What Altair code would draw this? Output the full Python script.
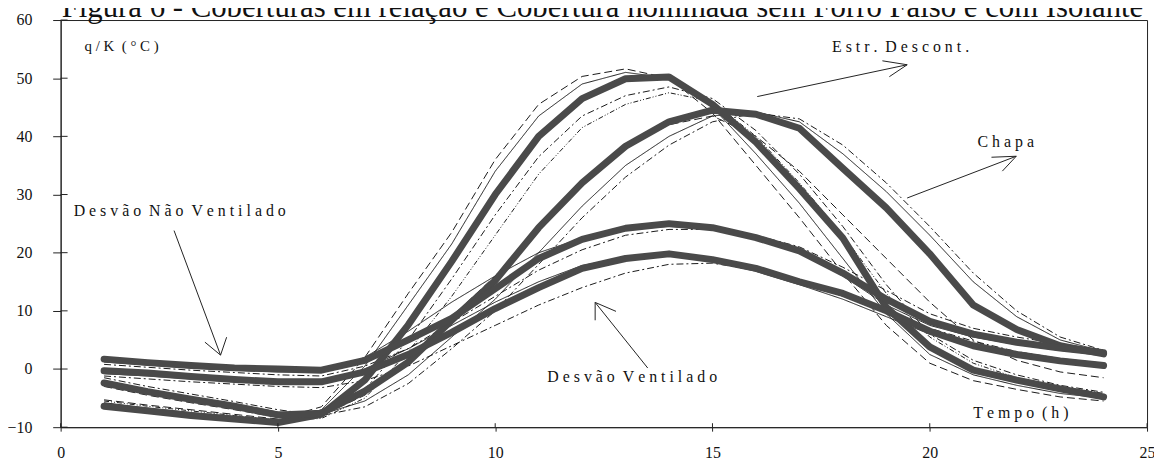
import altair as alt
import pandas as pd

hours = list(range(1, 25))

# thick curves (main cases)
estr_thick = [-6.4, -7.2, -8.0, -8.6, -9.2, -7.8, -1.9, 7.6, 18.5, 30.0, 40.0, 46.5, 49.9, 50.2, 45.5, 39.0, 31.0, 22.5, 10.6, 3.8, -0.2, -1.9, -3.4, -4.8]
chapa_thick = [-2.4, -3.9, -5.2, -6.4, -7.9, -7.6, -3.8, 1.2, 8.4, 15.2, 24.3, 32.0, 38.3, 42.5, 44.5, 43.8, 41.4, 34.5, 27.7, 19.8, 11.0, 6.8, 4.0, 2.6]
dnv_thick = [1.7, 1.1, 0.6, 0.2, 0.0, -0.2, 1.5, 5.0, 8.7, 13.8, 19.0, 22.3, 24.2, 25.0, 24.3, 22.6, 20.3, 16.5, 12.0, 8.2, 6.0, 4.6, 3.6, 2.8]
dv_thick = [-0.3, -0.7, -1.3, -1.8, -2.2, -2.2, -0.5, 2.5, 6.3, 10.4, 14.0, 17.3, 19.0, 19.8, 18.8, 17.3, 15.0, 13.0, 10.0, 6.5, 4.0, 2.5, 1.4, 0.6]

# thin curves (variants)
estr_dash = [-5.3, -6.2, -7.0, -7.8, -8.6, -6.5, 2.0, 13.0, 23.5, 36.0, 45.5, 50.3, 51.6, 50.0, 44.0, 35.0, 26.0, 16.5, 7.5, 1.0, -2.0, -3.5, -4.8, -5.5]
estr_solid = [-5.8, -6.7, -7.5, -8.3, -9.0, -7.0, 0.5, 11.0, 21.5, 34.0, 43.5, 49.0, 51.0, 50.0, 45.0, 37.0, 28.5, 19.0, 9.5, 2.5, -1.0, -2.8, -4.2, -5.0]
estr_dashdot = [-6.0, -6.8, -7.6, -8.3, -9.0, -8.0, -3.5, 5.0, 15.5, 26.5, 36.5, 43.5, 47.0, 48.5, 46.5, 41.0, 33.5, 24.5, 14.5, 6.0, 1.5, -1.0, -2.8, -4.0]
estr_dashdot2 = [-5.5, -6.4, -7.2, -8.0, -8.8, -8.5, -5.0, 3.0, 12.5, 23.0, 33.5, 41.5, 45.5, 47.5, 46.0, 40.0, 32.0, 23.0, 13.0, 5.5, 1.0, -1.5, -3.0, -4.2]
chapa_solid = [-2.0, -3.5, -4.8, -6.0, -7.4, -7.8, -5.5, -1.0, 5.5, 12.0, 20.0, 28.0, 35.0, 40.0, 43.5, 44.2, 42.5, 37.0, 30.5, 23.0, 15.0, 9.0, 5.0, 3.0]
chapa_dashdot = [-1.5, -3.0, -4.3, -5.6, -7.0, -8.0, -6.5, -2.5, 3.5, 10.0, 18.0, 26.0, 33.0, 38.5, 42.5, 44.0, 43.0, 38.5, 32.0, 24.5, 16.5, 10.0, 5.5, 3.2]
chapa_dash = [-3.0, -4.5, -5.8, -7.0, -8.3, -8.0, -4.5, 1.5, 9.0, 16.0, 24.5, 32.0, 38.0, 42.0, 43.5, 40.0, 34.0, 26.5, 19.0, 11.5, 5.0, 1.5, -0.5, -1.5]
dnv_solid = [1.2, 0.7, 0.2, -0.2, -0.5, -0.5, 2.0, 6.5, 11.5, 16.0, 20.0, 22.5, 24.0, 24.5, 24.0, 22.5, 20.0, 16.0, 11.0, 7.5, 5.5, 4.2, 3.2, 2.4]
dnv_dashdot = [0.8, 0.3, -0.2, -0.6, -1.0, -1.2, 0.5, 3.5, 8.0, 12.5, 17.0, 20.5, 23.0, 24.0, 24.0, 23.0, 21.0, 17.5, 13.5, 9.5, 7.0, 5.5, 4.3, 3.3]
dv_solid = [-0.8, -1.2, -1.7, -2.1, -2.5, -2.4, 0.0, 3.5, 7.5, 11.5, 15.0, 17.8, 19.2, 19.8, 18.5, 16.8, 14.5, 12.0, 9.0, 6.0, 4.0, 2.6, 1.6, 0.9]
dv_dashdot = [-1.2, -1.7, -2.2, -2.6, -3.0, -3.2, -2.0, 0.5, 4.0, 7.5, 11.0, 14.0, 16.5, 18.0, 18.2, 17.0, 15.0, 12.5, 9.8, 7.0, 4.8, 3.0, 1.8, 1.0]

x_ticks = [0, 5, 10, 15, 20, 25]
y_ticks = [-10, 0, 10, 20, 30, 40, 50, 60]

title_text = "Figura 6 - Coberturas em relação e Cobertura nominada sem Forro Falso e com Isolante"

# annotation labels (words as in the figure; letters are drawn spaced out)
label_words = ["q/K (°C)", "Estr. Descont.", "Chapa", "Desvão Não Ventilado",
               "Desvão Ventilado", "Tempo (h)"]
label_x = [0.55, 17.75, 21.1, 0.3, 11.2, 21.0]
label_y = [55.6, 55.3, 39.0, 27.2, -1.45, -7.6]
label_size = [15, 16, 16, 16, 16, 16]

# arrows: shaft + two head strokes (data coordinates)
arrow_x1 = [2.61, 3.68, 3.68, 13.51, 12.30, 12.30, 16.03, 19.48, 19.48, 19.48, 21.99, 21.99]
arrow_y1 = [23.8, 2.39, 2.39, 0.17, 11.45, 11.45, 46.84, 52.31, 52.31, 29.40, 36.58, 36.58]
arrow_x2 = [3.68, 3.32, 3.82, 12.30, 12.30, 12.78, 19.48, 18.91, 19.07, 21.99, 21.42, 21.67]
arrow_y2 = [2.39, 4.62, 5.47, 11.45, 8.38, 9.91, 52.31, 52.99, 50.26, 36.58, 36.41, 34.02]

NB = "\u00a0"


def spaced(s):
    return (NB * 2).join(NB.join(list(w)) for w in s.split(" "))


thin_series = [
    ("estr_dash", "dash", estr_dash), ("estr_solid", "solid", estr_solid),
    ("estr_dashdot", "dashdot", estr_dashdot), ("estr_dashdot2", "dashdot2", estr_dashdot2),
    ("chapa_solid", "solid", chapa_solid), ("chapa_dashdot", "dashdot", chapa_dashdot),
    ("chapa_dash", "dash", chapa_dash),
    ("dnv_solid", "solid", dnv_solid), ("dnv_dashdot", "dashdot", dnv_dashdot),
    ("dv_solid", "solid", dv_solid), ("dv_dashdot", "dashdot", dv_dashdot),
]
thick_series = [("estr", estr_thick), ("chapa", chapa_thick), ("dnv", dnv_thick), ("dv", dv_thick)]

thin_rows = []
for name, style, vals in thin_series:
    for h, v in zip(hours, vals):
        thin_rows.append({"hour": h, "value": v, "series": name, "style": style})
thin_df = pd.DataFrame(thin_rows)

thick_rows = []
for name, vals in thick_series:
    for h, v in zip(hours, vals):
        thick_rows.append({"hour": h, "value": v, "series": name})
thick_df = pd.DataFrame(thick_rows)

FONT = "Liberation Serif"
xscale = alt.Scale(domain=[0, 25], nice=False, zero=False)
yscale = alt.Scale(domain=[-10, 60], nice=False, zero=False)

x_axis = alt.Axis(values=x_ticks, format="d", title=None, grid=False, tickSize=4,
                  labelPadding=14, labelFont=FONT, labelFontSize=16, labelColor="#111",
                  tickColor="#222", domainColor="#222", labelFlush=False)
y_axis = alt.Axis(values=y_ticks, format="d", title=None, grid=False, tickSize=8,
                  labelPadding=21, labelFont=FONT, labelFontSize=16, labelColor="#111",
                  tickColor="#222", domainColor="#222", labelFlush=False)

thin = alt.Chart(thin_df).mark_line(strokeWidth=1, color="#1a1a1a").encode(
    x=alt.X("hour:Q", scale=xscale, axis=x_axis),
    y=alt.Y("value:Q", scale=yscale, axis=y_axis),
    detail="series:N",
    strokeDash=alt.StrokeDash(
        "style:N",
        scale=alt.Scale(domain=["solid", "dash", "dashdot", "dashdot2"],
                        range=[[1, 0], [8, 4], [7, 3, 2, 3], [5, 2, 1, 2, 1, 2]]),
        legend=None,
    ),
)

thick = alt.Chart(thick_df).mark_line(strokeWidth=7, color="#4a4a4a",
                                      strokeJoin="round", strokeCap="round").encode(
    x=alt.X("hour:Q", scale=xscale),
    y=alt.Y("value:Q", scale=yscale),
    detail="series:N",
)

ytick_df = pd.DataFrame({"v": y_ticks})
ytick_in = alt.Chart(ytick_df).mark_rule(color="#222", strokeWidth=1).encode(
    y=alt.Y("v:Q", scale=yscale), x=alt.value(0), x2=alt.value(7))
xtick_df = pd.DataFrame({"v": x_ticks})
xtick_in = alt.Chart(xtick_df).mark_rule(color="#222", strokeWidth=1).encode(
    x=alt.X("v:Q", scale=xscale), y=alt.value(410), y2=alt.value(406))

lab_df = pd.DataFrame({"x": label_x, "y": label_y,
                       "t": [spaced(w) for w in label_words], "s": label_size})
labels = alt.Chart(lab_df).mark_text(align="left", baseline="middle", font=FONT,
                                     color="#111").encode(
    x=alt.X("x:Q", scale=xscale), y=alt.Y("y:Q", scale=yscale), text="t:N",
    size=alt.Size("s:Q", scale=None, legend=None))

arr_df = pd.DataFrame({"x1": arrow_x1, "y1": arrow_y1, "x2": arrow_x2, "y2": arrow_y2})
arrows = alt.Chart(arr_df).mark_rule(color="#222", strokeWidth=1).encode(
    x=alt.X("x1:Q", scale=xscale), y=alt.Y("y1:Q", scale=yscale),
    x2="x2:Q", y2="y2:Q")

title_df = pd.DataFrame({"t": [title_text]})
title = alt.Chart(title_df).mark_text(align="left", baseline="alphabetic", font=FONT,
                                      fontSize=31, color="#111").encode(
    x=alt.value(1), y=alt.value(-3.5), text="t:N")

chart = alt.layer(thin, thick, ytick_in, xtick_in, arrows, labels, title).properties(
    width=1094, height=410,
    autosize=alt.AutoSizeParams(type="none"),
    padding={"left": 53, "top": 10.5, "right": 7, "bottom": 40},
    background="white",
).configure_view(stroke="#222", strokeWidth=1)

chart.save("out.html", embed_options={"renderer": "svg", "actions": False})
